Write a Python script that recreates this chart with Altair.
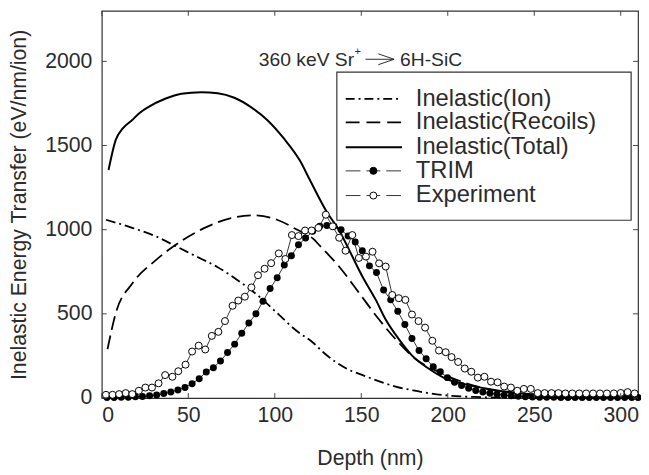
import altair as alt
import pandas as pd

# ---------------- data ----------------
total_depth = [3.9, 8.1, 12, 17.6, 22, 27.1, 36.6, 46, 57.5, 67, 76.6, 86, 95.6, 105, 114.6, 120.3,
               129.9, 137.5, 143.2, 150.8, 158.4, 164.1, 171.7, 179.4, 188.9, 198.4, 211.7, 227, 245, 270, 310]
total_val = [1355, 1535, 1600, 1652, 1695, 1730, 1778, 1808, 1817, 1811, 1784, 1730, 1652, 1545, 1409, 1295,
             1108, 991, 875, 719, 583, 466, 350, 252, 175, 117, 78, 48, 25, 12, 4]

ion_depth = [2.4, 17.6, 30.9, 42.4, 53.8, 67, 78.5, 89.9, 101.3, 112.7, 122, 128, 135, 142, 150.8, 160,
             169.8, 180, 188.9, 200, 215, 240, 270, 310]
ion_val = [1059, 1011, 962, 904, 845, 777, 700, 612, 505, 398, 330, 272, 215, 172, 136, 100,
           68, 45, 29, 15, 6, 2, 1, 0]

rec_depth = [3.3, 8.1, 17.6, 30.9, 46, 61.4, 74.7, 88, 101.3, 112.7, 122.3, 126, 137.5, 148.9, 160.3,
             169.8, 181.2, 194.6, 207.9, 222, 240, 260, 285, 310]
rec_val = [290, 505, 680, 816, 933, 1020, 1069, 1085, 1059, 1001, 945, 905, 777, 622, 466,
           350, 233, 155, 97, 55, 25, 10, 4, 1]

trim_depth = [3.0, 7.1, 11.2, 15.3, 19.4, 23.5, 27.6, 31.7, 35.8, 39.9, 44.0, 48.1, 52.2, 56.3, 60.4,
              64.5, 68.6, 72.7, 76.8, 80.9, 85.0, 89.1, 93.2, 97.3, 101.4, 105.5, 109.6, 113.7, 117.8,
              121.9, 126.0, 130.1, 134.2, 138.3, 142.4, 146.5, 150.6, 154.7, 158.8, 162.9, 167.0, 171.1,
              175.2, 179.3, 183.4, 187.5, 191.6, 195.7, 199.8, 203.9, 208.0, 212.1, 216.2, 220.3, 224.4,
              228.5, 232.6, 236.7, 240.8, 244.9, 249.0, 253.1, 257.2, 261.3, 265.4, 269.5, 273.6, 277.7,
              281.8, 285.9, 290.0, 294.1, 298.2, 302.3, 306.4, 310.0]
trim_val = [3, 3, 4, 5, 7, 9, 13, 18, 26, 35, 48, 63, 85, 115, 155,
            180, 220, 270, 320, 385, 445, 500, 575, 650, 715, 790, 845, 910, 950,
            990, 1020, 1025, 1020, 1000, 962, 927, 875, 785, 745, 641, 583, 515,
            437, 354, 282, 233, 185, 156, 121, 93, 74, 58, 45, 35, 28,
            22, 17, 13, 10, 8, 6, 5, 4, 4, 3, 3, 3, 3,
            3, 3, 3, 3, 3, 3, 3, 3]

exp_depth = [2.4, 6.2, 10, 13.8, 17.6, 21.4, 25.2, 29, 32.8, 36.6, 40.8, 44.2, 48.4, 52.2, 56, 59.8,
             63.6, 67.4, 71.2, 75.6, 78.9, 82.7, 86.5, 90.3, 94.1, 97.9, 102.3, 106.1, 109.9, 113.7,
             117.5, 121.3, 125.2, 129.5, 133.5, 137.2, 140.9, 144.8, 148.6, 152.7, 156.5, 160.3, 164.1,
             167.9, 171.7, 175.5, 179.3, 183.1, 186.9, 191.1, 194.9, 198.8, 202.2, 206, 209.8, 213.6,
             217.4, 221.2, 225, 228.8, 232.6, 236.5, 240.2, 244, 248, 252, 256, 260, 264, 268, 272,
             276, 280, 284, 288, 292, 296, 300, 304, 308]
exp_val = [19, 19, 23, 29, 23, 43, 62, 62, 87, 136, 126, 159, 198, 276, 311, 288,
           369, 393, 457, 548, 579, 602, 657, 729, 768, 801, 859, 826, 968, 962,
           995, 995, 1011, 1089, 1020, 952, 875, 968, 832, 840, 869, 800, 781,
           612, 593, 583, 496, 457, 418, 340, 282, 272, 243, 214, 175, 156,
           121, 126, 97, 93, 68, 62, 43, 54, 54, 29, 29, 29, 29, 27, 27,
           27, 27, 27, 27, 27, 27, 30, 35, 27]

x_ticks = [0, 50, 100, 150, 200, 250, 300]
y_ticks = [0, 500, 1000, 1500, 2000]

legend_labels = ["Inelastic(Ion)", "Inelastic(Recoils)", "Inelastic(Total)", "TRIM", "Experiment"]

# ---------------- layout ----------------
W, H = 543, 392
FONT = "Liberation Sans"
TXT = "#2b2b2b"
FS = 21.5
LFS = 24
AFS = 19.5

df_total = pd.DataFrame({"depth": total_depth, "val": total_val})
df_ion = pd.DataFrame({"depth": ion_depth, "val": ion_val})
df_rec = pd.DataFrame({"depth": rec_depth, "val": rec_val})
df_trim = pd.DataFrame({"depth": trim_depth, "val": trim_val})
df_exp = pd.DataFrame({"depth": exp_depth, "val": exp_val})
df_xt = pd.DataFrame({"depth": x_ticks})
df_yt = pd.DataFrame({"val": y_ticks})
one = pd.DataFrame({"k": [0]})

xs = alt.Scale(domain=[0, 310], nice=False, zero=False)
ys = alt.Scale(domain=[0, 2300], nice=False)
x_axis = alt.Axis(values=x_ticks, format="d", title="Depth (nm)", grid=False, domain=False, ticks=False,
                  labelPadding=7, titlePadding=22, labelFontSize=FS, titleFontSize=FS,
                  labelFont=FONT, titleFont=FONT, labelColor=TXT, titleColor=TXT,
                  titleFontWeight="normal")
y_axis = alt.Axis(values=y_ticks, format="d", title="Inelastic Energy Transfer (eV/nm/ion)", grid=False,
                  domain=False, ticks=False, labelPadding=10, titlePadding=14,
                  labelFontSize=FS, titleFontSize=FS, labelFont=FONT, titleFont=FONT,
                  labelColor=TXT, titleColor=TXT, titleFontWeight="normal")
X = alt.X("depth:Q", scale=xs, axis=x_axis)
Y = alt.Y("val:Q", scale=ys, axis=y_axis)

total = alt.Chart(df_total).mark_line(color="black", strokeWidth=2, interpolate="monotone").encode(x=X, y=Y)
ion = alt.Chart(df_ion).mark_line(color="black", strokeWidth=1.8, strokeDash=[10, 4, 2, 4],
                                  interpolate="monotone").encode(x=X, y=Y)
rec = alt.Chart(df_rec).mark_line(color="black", strokeWidth=1.8, strokeDash=[14, 6],
                                  interpolate="monotone").encode(x=X, y=Y)
trim_line = alt.Chart(df_trim).mark_line(color="black", strokeWidth=0.8).encode(x=X, y=Y)
trim_pts = alt.Chart(df_trim).mark_point(shape="circle", filled=True, color="black", size=50,
                                         opacity=1).encode(x=X, y=Y)
exp_line = alt.Chart(df_exp).mark_line(color="black", strokeWidth=0.8).encode(x=X, y=Y)
exp_pts = alt.Chart(df_exp).mark_point(shape="circle", filled=True, fill="white", stroke="black",
                                       strokeWidth=1, size=50, opacity=1).encode(x=X, y=Y)

TL = 5
xt_bottom = alt.Chart(df_xt).mark_rule(color="#444", strokeWidth=1).encode(
    x=X, y=alt.value(H), y2=alt.value(H - TL))
xt_top = alt.Chart(df_xt).mark_rule(color="#444", strokeWidth=1).encode(
    x=X, y=alt.value(0), y2=alt.value(TL))
yt_left = alt.Chart(df_yt).mark_rule(color="#444", strokeWidth=1).encode(
    y=Y, x=alt.value(0), x2=alt.value(TL))
yt_right = alt.Chart(df_yt).mark_rule(color="#444", strokeWidth=1).encode(
    y=Y, x=alt.value(W), x2=alt.value(W - TL))

# annotation: 360 keV Sr+ -> 6H-SiC
ann1 = alt.Chart(one).mark_text(text="360 keV Sr", font=FONT, fontSize=AFS, color=TXT, align="left",
                                baseline="middle").encode(x=alt.value(159), y=alt.value(50))
ann_sup = alt.Chart(one).mark_text(text="+", font=FONT, fontSize=11, color=TXT, align="left",
                                   baseline="middle").encode(x=alt.value(256), y=alt.value(42))
ann2 = alt.Chart(one).mark_text(text="6H-SiC", font=FONT, fontSize=AFS, color=TXT, align="left",
                                baseline="middle").encode(x=alt.value(302), y=alt.value(50))
arr_shaft = alt.Chart(one).mark_rule(color=TXT, strokeWidth=1).encode(
    x=alt.value(267), x2=alt.value(295), y=alt.value(49))
arr_h1 = alt.Chart(one).mark_rule(color=TXT, strokeWidth=1).encode(
    x=alt.value(280), x2=alt.value(296), y=alt.value(43.5), y2=alt.value(49))
arr_h2 = alt.Chart(one).mark_rule(color=TXT, strokeWidth=1).encode(
    x=alt.value(280), x2=alt.value(296), y=alt.value(54.5), y2=alt.value(49))

# legend box
LX0, LX1, LY0, LY1 = 238, 536, 62, 212
box = alt.Chart(one).mark_rect(fill="white", stroke="#333", strokeWidth=1.2).encode(
    x=alt.value(LX0), x2=alt.value(LX1), y=alt.value(LY0), y2=alt.value(LY1))
rows = [89, 113, 138, 162, 187]
SX0, SX1 = 247, 304
TX = 318
leg = []
leg.append(alt.Chart(one).mark_rule(color="black", strokeWidth=1.8, strokeDash=[9, 4, 2, 4]).encode(
    x=alt.value(SX0), x2=alt.value(SX1), y=alt.value(rows[0])))
leg.append(alt.Chart(one).mark_rule(color="black", strokeWidth=1.8, strokeDash=[14, 7]).encode(
    x=alt.value(SX0), x2=alt.value(SX1), y=alt.value(rows[1])))
leg.append(alt.Chart(one).mark_rule(color="black", strokeWidth=2).encode(
    x=alt.value(SX0), x2=alt.value(SX1), y=alt.value(rows[2])))
for r, filled_fill in ((rows[3], "black"), (rows[4], "white")):
    leg.append(alt.Chart(one).mark_rule(color="black", strokeWidth=0.8, strokeDash=[15, 6, 14, 6, 15]).encode(
        x=alt.value(SX0), x2=alt.value(SX0 + 56), y=alt.value(r)))
    leg.append(alt.Chart(one).mark_point(shape="circle", filled=True, fill=filled_fill, stroke="black",
                                         strokeWidth=1, size=50, opacity=1).encode(
        x=alt.value(SX0 + 28), y=alt.value(r)))
for r, lab in zip(rows, legend_labels):
    leg.append(alt.Chart(one).mark_text(text=lab, font=FONT, fontSize=LFS, color=TXT, align="left",
                                        baseline="middle").encode(x=alt.value(TX), y=alt.value(r)))

chart = alt.layer(
    ion, rec, total, trim_line, trim_pts, exp_line, exp_pts,
    xt_bottom, xt_top, yt_left, yt_right,
    box, *leg,
    ann1, ann_sup, ann2, arr_shaft, arr_h1, arr_h2,
).properties(
    width=W, height=H,
    autosize=alt.AutoSizeParams(type="none"),
    padding={"left": 95, "top": 0, "right": 3, "bottom": 70},
).configure_view(stroke="#333", strokeWidth=1.2)

chart.save("out.html", embed_options={"renderer": "svg", "actions": False})
